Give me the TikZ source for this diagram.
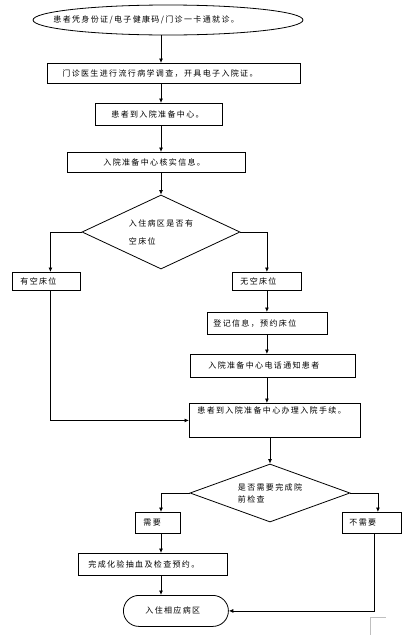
\documentclass[tikz,border=0pt]{standalone}
\usepackage{fontspec}
\newfontfamily\cjk[LetterSpace=17]{Noto Sans CJK SC}
\usetikzlibrary{shapes.geometric,arrows.meta}

\begin{document}
\begin{tikzpicture}[x=1pt, y=-1pt, line width=0.8pt,
box/.style={draw, rectangle, anchor=north west, align=left, inner ysep=0pt, font=\cjk\fontsize{8}{10}\selectfont},
txt/.style={inner sep=0pt, font=\cjk\fontsize{8}{10}\selectfont},
query/.style={draw, diamond, aspect=2, inner sep=0pt, align=left},
arr/.style={-{Latex[length=4.5pt,width=4pt]}}]
\fill[white] (0,0) rectangle (409,635);
\useasboundingbox (0,0) rectangle (409,635);
\coordinate (spine) at (161,0);
\node[draw, ellipse, minimum width=270pt, minimum height=30pt] (start) at (168,20) {};
\node[txt, anchor=west] (startText) at (53,20) {患者凭身份证/电子健康码/门诊一卡通就诊。};
\node[box, text width=223pt, inner xsep=15pt, minimum height=20pt] (exam) at (47,63) {门诊医生进行流行病学调查，开具电子入院证。};
\node[box, text width=95pt, inner xsep=16pt, minimum height=22pt] (arrive) at (95,103) {患者到入院准备中心。};
\node[box, text width=106pt, inner xsep=36pt, minimum height=20pt] (verify) at (67,152) {入院准备中心核实信息。};
\node[query, minimum width=158pt, minimum height=74pt, font=\cjk\fontsize{8}{18}\selectfont] (bedq) at (161,232) {入住病区是否有\\空床位};
\node[box, text width=52pt, inner xsep=8pt, minimum height=18pt] (hasBed) at (12,272) {有空床位};
\node[box, text width=53pt, inner xsep=8pt, minimum height=18pt] (noBed) at (232,272) {无空床位};
\node[box, text width=108pt, inner xsep=6pt, minimum height=22pt] (book) at (207,312) {登记信息，预约床位};
\node[box, text width=129pt, inner xsep=18pt, minimum height=23pt] (notify) at (190,354) {入院准备中心电话通知患者};
\node[box, text width=155pt, inner xsep=8pt, inner ysep=3pt, text height=7pt, text depth=21pt] (admit) at (189,403) {患者到入院准备中心办理入院手续。};
\node[query, minimum width=160pt, minimum height=58pt, font=\cjk\fontsize{8}{12}\selectfont] (checkq) at (270,493) {是否需要完成院\\前检查};
\node[box, text width=29pt, inner xsep=8pt, minimum height=21pt] (need) at (135,512) {需要};
\node[box, text width=45pt, inner xsep=7pt, minimum height=21pt] (noNeed) at (342,512) {不需要};
\node[box, text width=129pt, inner xsep=10pt, minimum height=22pt] (lab) at (78,553) {完成化验抽血及检查预约。};
\node[box, rounded corners=15.5pt, text width=61pt, inner xsep=22pt, minimum height=31pt] (ward) at (123,595) {入住相应病区};

\draw[arr] (start.south -| spine) -- (exam.north -| spine);
\draw[arr] (exam.south -| spine) -- (arrive.north -| spine);
\draw[arr] (arrive.south -| spine) -- (verify.north -| spine);
\draw[arr] (verify.south -| spine) -- (bedq.north);
\draw[arr] (bedq.west) -| ([xshift=4pt]hasBed.north);
\draw[arr] (bedq.east) -| (noBed.north);
\draw[arr] (noBed.south) -- (noBed.south |- book.north);
\draw[arr] (book.south -| noBed) -- (notify.north -| noBed);
\draw[arr] (notify.south -| noBed) -- (admit.north -| noBed);
\draw[arr] ([xshift=4pt]hasBed.south) |- (admit.west);
\draw[arr] (admit.south -| checkq) -- (checkq.north);
\draw[arr] (checkq.west) -| (need.north -| spine);
\draw[arr] (checkq.east) -| ([xshift=6pt]noNeed.north);
\draw[arr] (need.south -| spine) -- (lab.north -| spine);
\draw[arr] (lab.south -| spine) -- (ward.north -| spine);
\draw[arr] ([xshift=2pt]noNeed.south) |- (ward.east);
\draw[gray!50, line width=0.6pt] (370,635) |- (386,617);
\end{tikzpicture}
\end{document}
